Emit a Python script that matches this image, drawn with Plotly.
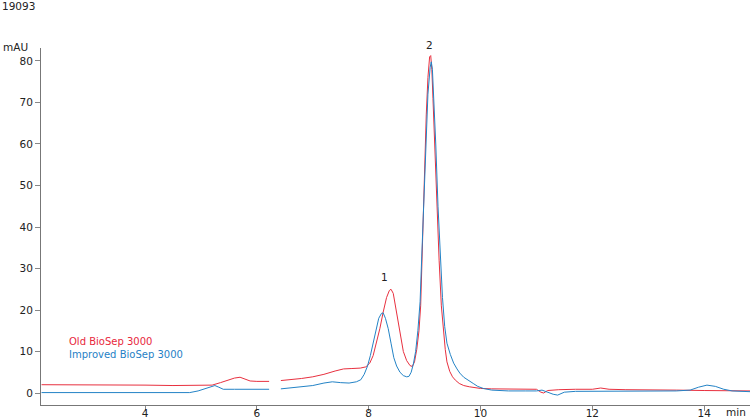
import plotly.graph_objects as go

# ---- data ----
old_t = [2.15, 2.5, 3.0, 3.5, 4.0, 4.5, 5.0, 5.2, 5.35, 5.5, 5.6, 5.7, 5.8, 5.88, 6.0, 6.1, 6.22, None,
         6.43, 6.6, 6.8, 7.0, 7.2, 7.4, 7.55, 7.7, 7.85, 7.95, 8.02, 8.08, 8.14, 8.2, 8.26, 8.32, 8.37,
         8.40, 8.44, 8.5, 8.56, 8.62, 8.68, 8.74, 8.78, 8.82, 8.86, 8.9, 8.93, 8.96, 8.99, 9.03, 9.06,
         9.09, 9.11, 9.13, 9.15, 9.18, 9.22, 9.26, 9.3, 9.33, 9.37, 9.4, 9.45, 9.5, 9.55, 9.62, 9.7,
         9.8, 9.9, 10.0, 10.2, 10.5, 10.8, 11.0, 11.08, 11.13, 11.2, 11.4, 11.7, 12.0, 12.15, 12.3,
         12.6, 13.0, 13.5, 14.0, 14.5, 14.85]
old_v = [2.0, 2.0, 1.9, 1.9, 1.9, 1.8, 1.8, 1.9, 2.5, 3.2, 3.6, 3.8, 3.4, 2.9, 2.8, 2.8, 2.8, None,
         3.0, 3.2, 3.5, 3.9, 4.5, 5.3, 5.8, 5.9, 6.0, 6.3, 7.2, 9.0, 12.0, 15.5, 19.5, 23.0, 24.7,
         25.0, 24.0, 19.5, 14.0, 10.0, 7.8, 6.6, 6.4, 7.5, 10.5, 15.0, 21.0, 35.0, 50.0, 67.0, 76.0,
         81.0, 81.3, 78.0, 71.0, 60.0, 45.0, 32.0, 21.0, 16.0, 10.5, 7.5, 5.2, 3.9, 3.1, 2.3, 1.8,
         1.5, 1.3, 1.1, 1.0, 1.0, 1.0, 0.9, 0.2, 0.0, 0.6, 0.8, 0.9, 0.9, 1.2, 0.9,
         0.8, 0.8, 0.7, 0.6, 0.5, 0.5]

imp_t = [2.15, 2.5, 3.0, 3.5, 4.0, 4.5, 4.8, 4.95, 5.1, 5.25, 5.32, 5.4, 5.6, 5.9, 6.22, None,
         6.43, 6.7, 7.0, 7.2, 7.35, 7.5, 7.65, 7.78, 7.86, 7.92, 7.98, 8.03, 8.08, 8.13, 8.18, 8.23,
         8.26, 8.3, 8.35, 8.4, 8.45, 8.5, 8.56, 8.62, 8.68, 8.72, 8.76, 8.8, 8.84, 8.88, 8.92, 8.95,
         8.98, 9.02, 9.06, 9.1, 9.12, 9.14, 9.17, 9.2, 9.24, 9.28, 9.32, 9.36, 9.4, 9.46, 9.52, 9.58,
         9.63, 9.7, 9.8, 9.87, 9.95, 10.05, 10.2, 10.5, 10.8, 11.0, 11.1, 11.2, 11.3, 11.38, 11.5,
         11.7, 12.0, 12.5, 13.0, 13.5, 13.75, 13.9, 14.05, 14.2, 14.35, 14.5, 14.85]
imp_v = [0.1, 0.1, 0.1, 0.0, 0.0, 0.0, 0.1, 0.5, 1.2, 1.8, 1.4, 0.9, 0.9, 0.9, 0.9, None,
         1.0, 1.3, 1.8, 2.4, 2.7, 2.5, 2.4, 2.7, 3.2, 4.5, 6.5, 9.0, 12.0, 15.5, 18.0, 19.2,
         19.3, 18.0, 15.5, 12.0, 8.5, 6.5, 5.0, 4.2, 3.9, 4.0, 5.0, 7.0, 10.0, 15.0, 22.0, 33.0,
         45.0, 60.0, 72.0, 78.5, 79.8, 78.0, 70.0, 60.0, 45.0, 33.0, 23.0, 16.0, 12.0, 9.3, 7.2, 5.8,
         4.8, 3.8, 2.8, 2.3, 1.6, 1.1, 0.7, 0.5, 0.5, 0.5, 0.7, 0.2, -0.3, -0.5, 0.2,
         0.4, 0.4, 0.4, 0.4, 0.5, 0.7, 1.4, 1.9, 1.6, 0.9, 0.5, 0.3]

x_ticks = [4, 6, 8, 10, 12, 14]
y_ticks = [0, 10, 20, 30, 40, 50, 60, 70, 80]
series_names = ["Old BioSep 3000", "Improved BioSep 3000"]
peak_labels = ["1", "2"]

RED = "#e8303f"
BLUE = "#2383c6"
FONT = "DejaVu Sans"

# plot area in pixels: x 41..750, y 48..405
PW, PH = 709.0, 357.0


def px(x):
    return (x - 41) / PW


def py(y):
    return (405 - y) / PH


fig = go.Figure()
fig.add_trace(go.Scatter(x=old_t, y=old_v, mode="lines", name=series_names[0],
                         line=dict(color=RED, width=1), connectgaps=False))
fig.add_trace(go.Scatter(x=imp_t, y=imp_v, mode="lines", name=series_names[1],
                         line=dict(color=BLUE, width=1), connectgaps=False))

axis_common = dict(ticks="outside", ticklen=5, tickcolor="#888888", showline=True,
                   linecolor="#777777", linewidth=1, showgrid=False, zeroline=False,
                   automargin=False, tickfont=dict(family=FONT, size=10.5, color="#222"))

fig.update_layout(
    width=750, height=420,
    margin=dict(l=41, r=0, t=48, b=15, autoexpand=False),
    paper_bgcolor="white", plot_bgcolor="white",
    showlegend=False,
    font=dict(family=FONT, size=10, color="#222222"),
    xaxis=dict(range=[2.14, 14.82], tickvals=x_ticks, ticklabelstandoff=-7, **axis_common),
    yaxis=dict(range=[-2.89, 83.13], tickvals=y_ticks, **axis_common),
)

fig.add_annotation(text="19093", xref="paper", yref="paper", x=px(0), y=py(6),
                   xanchor="left", yanchor="middle", showarrow=False, font=dict(size=10.5))
fig.add_annotation(text="mAU", xref="paper", yref="paper", x=px(30), y=py(47),
                   xanchor="right", yanchor="middle", showarrow=False, font=dict(size=10.5))
fig.add_annotation(text="min", xref="paper", yref="paper", x=px(748), y=py(412),
                   xanchor="right", yanchor="middle", showarrow=False, font=dict(size=10.5))
fig.add_annotation(text=series_names[0], xref="paper", yref="paper", x=px(67), y=py(341),
                   xanchor="left", yanchor="middle", showarrow=False,
                   font=dict(size=10, color="#e8283c"))
fig.add_annotation(text=series_names[1], xref="paper", yref="paper", x=px(67), y=py(354),
                   xanchor="left", yanchor="middle", showarrow=False,
                   font=dict(size=10, color="#1f7fc6"))
for lab, (ax_, ay_) in zip(peak_labels, [(384, 277), (429, 45)]):
    fig.add_annotation(text=lab, xref="paper", yref="paper", x=px(ax_), y=py(ay_),
                       showarrow=False, xanchor="center", yanchor="middle",
                       font=dict(size=10.5))

fig.write_html("out.html")
